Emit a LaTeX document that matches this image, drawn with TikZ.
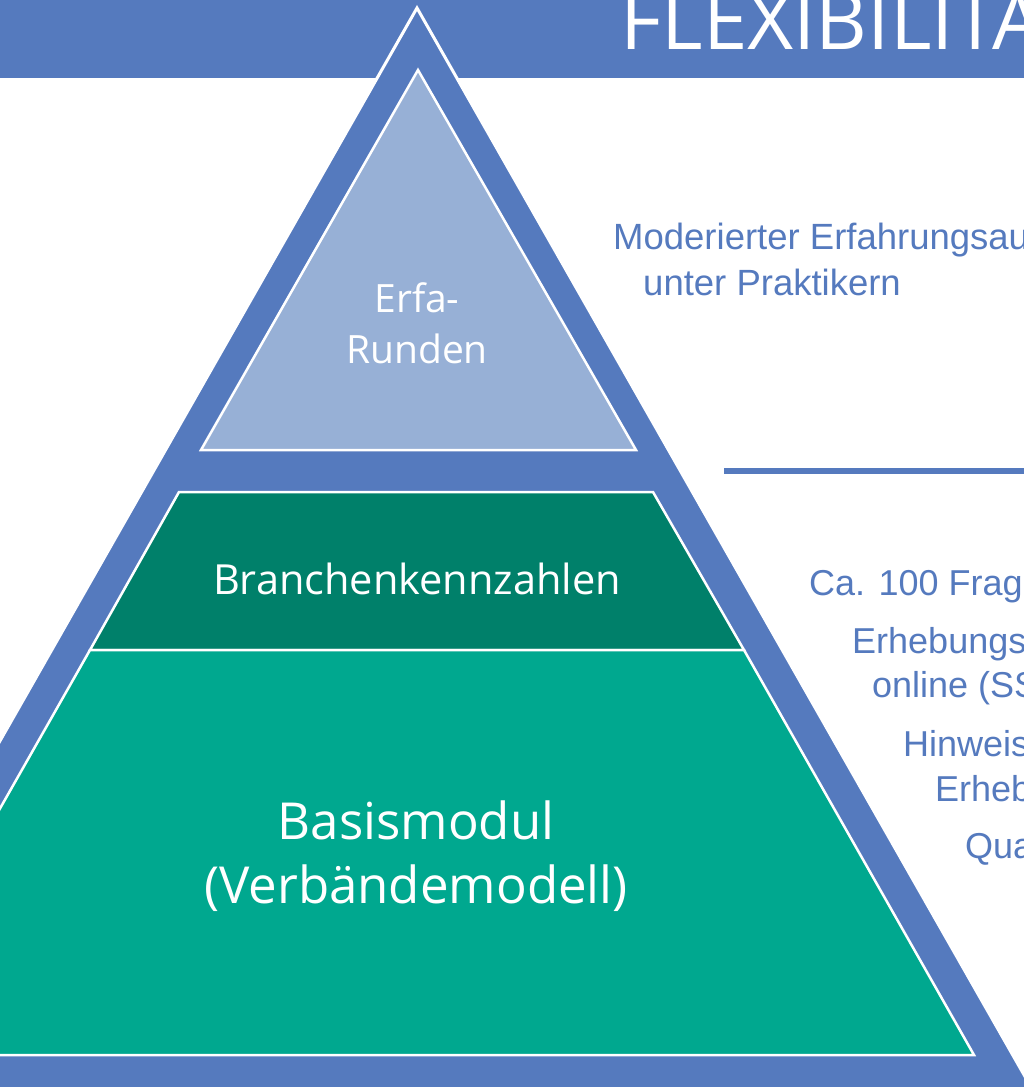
\documentclass[tikz,border=0pt]{standalone}
\usepackage{fontspec}
\setmainfont{Open Sans}
\newfontfamily\arialf{Liberation Sans}
\definecolor{pblue}{RGB}{85,122,190}
\definecolor{plight}{RGB}{151,176,214}
\definecolor{pdark}{RGB}{0,128,106}
\definecolor{pteal}{RGB}{0,168,143}
\tikzset{
  layer/.style={draw=white, line width=2.5pt, line join=miter},
  wlabel/.style={text=white, inner sep=0pt, anchor=base},
  blabel/.style={text=pblue, inner sep=0pt, anchor=base west, font=\arialf\fontsize{36}{42}\selectfont},
}
\begin{document}
\begin{tikzpicture}[x=1pt,y=-1pt]
\useasboundingbox (0,0) rectangle (1024,1087);
\clip (0,0) rectangle (1024,1087);
% top band
\fill[pblue] (0,0) rectangle (1024,78);
\node[wlabel, anchor=base west, font=\fontsize{80}{86}\selectfont] (title) at (620,49) {FLEXIBILITÄT};
% big triangle
\filldraw[fill=pblue, draw=white, line width=3pt, line join=miter] (417,8) -- (1099.8,1208) -- (-265.8,1208) -- cycle;
% inner layers
\filldraw[layer, fill=plight] (418,70) -- (636,450) -- (201,450) -- cycle;
\filldraw[layer, fill=pdark] (179,492) -- (653,492) -- (744,650) -- (90,650) -- cycle;
\filldraw[layer, fill=pteal] (90,650) -- (744,650) -- (974,1055) -- (-140,1055) -- cycle;
% labels inside
\node[wlabel, font=\fontsize{39}{46}\selectfont] (erfa1) at (417,312) {Erfa-};
\node[wlabel, font=\fontsize{39}{46}\selectfont] (erfa2) at (417,363) {Runden};
\node[wlabel, font=\fontsize{41.5}{48}\selectfont] (branch) at (417,594) {Branchenkennzahlen};
\node[wlabel, font=\fontsize{51}{60}\selectfont] (basis1) at (416,839) {Basismodul};
\node[wlabel, font=\fontsize{51}{60}\selectfont] (basis2) at (416,903) {(Verbändemodell)};
% right side
\node[blabel, font=\arialf\fontsize{36.5}{42}\selectfont] (mod1) at (613,249) {Moderierter Erfahrungsaustausch};
\node[blabel, font=\arialf\fontsize{36.5}{42}\selectfont] (mod2) at (643,295) {unter Praktikern};
\coordinate (sepA) at (724,471);
\coordinate (sepB) at (1030,471);
\draw[pblue, line width=6pt] (sepA) -- (sepB);
\node[blabel] (ca) at (809,595) {Ca. 100 Fragen};
\node[blabel] (erh1) at (852,653) {Erhebungsverfahren};
\node[blabel] (erh2) at (872,697) {online (SSL)};
\node[blabel] (hin1) at (903,756) {Hinweise zur};
\node[blabel] (hin2) at (935,801) {Erhebung};
\node[blabel] (qua) at (965,858) {Qualitätssicherung};
\end{tikzpicture}
\end{document}
